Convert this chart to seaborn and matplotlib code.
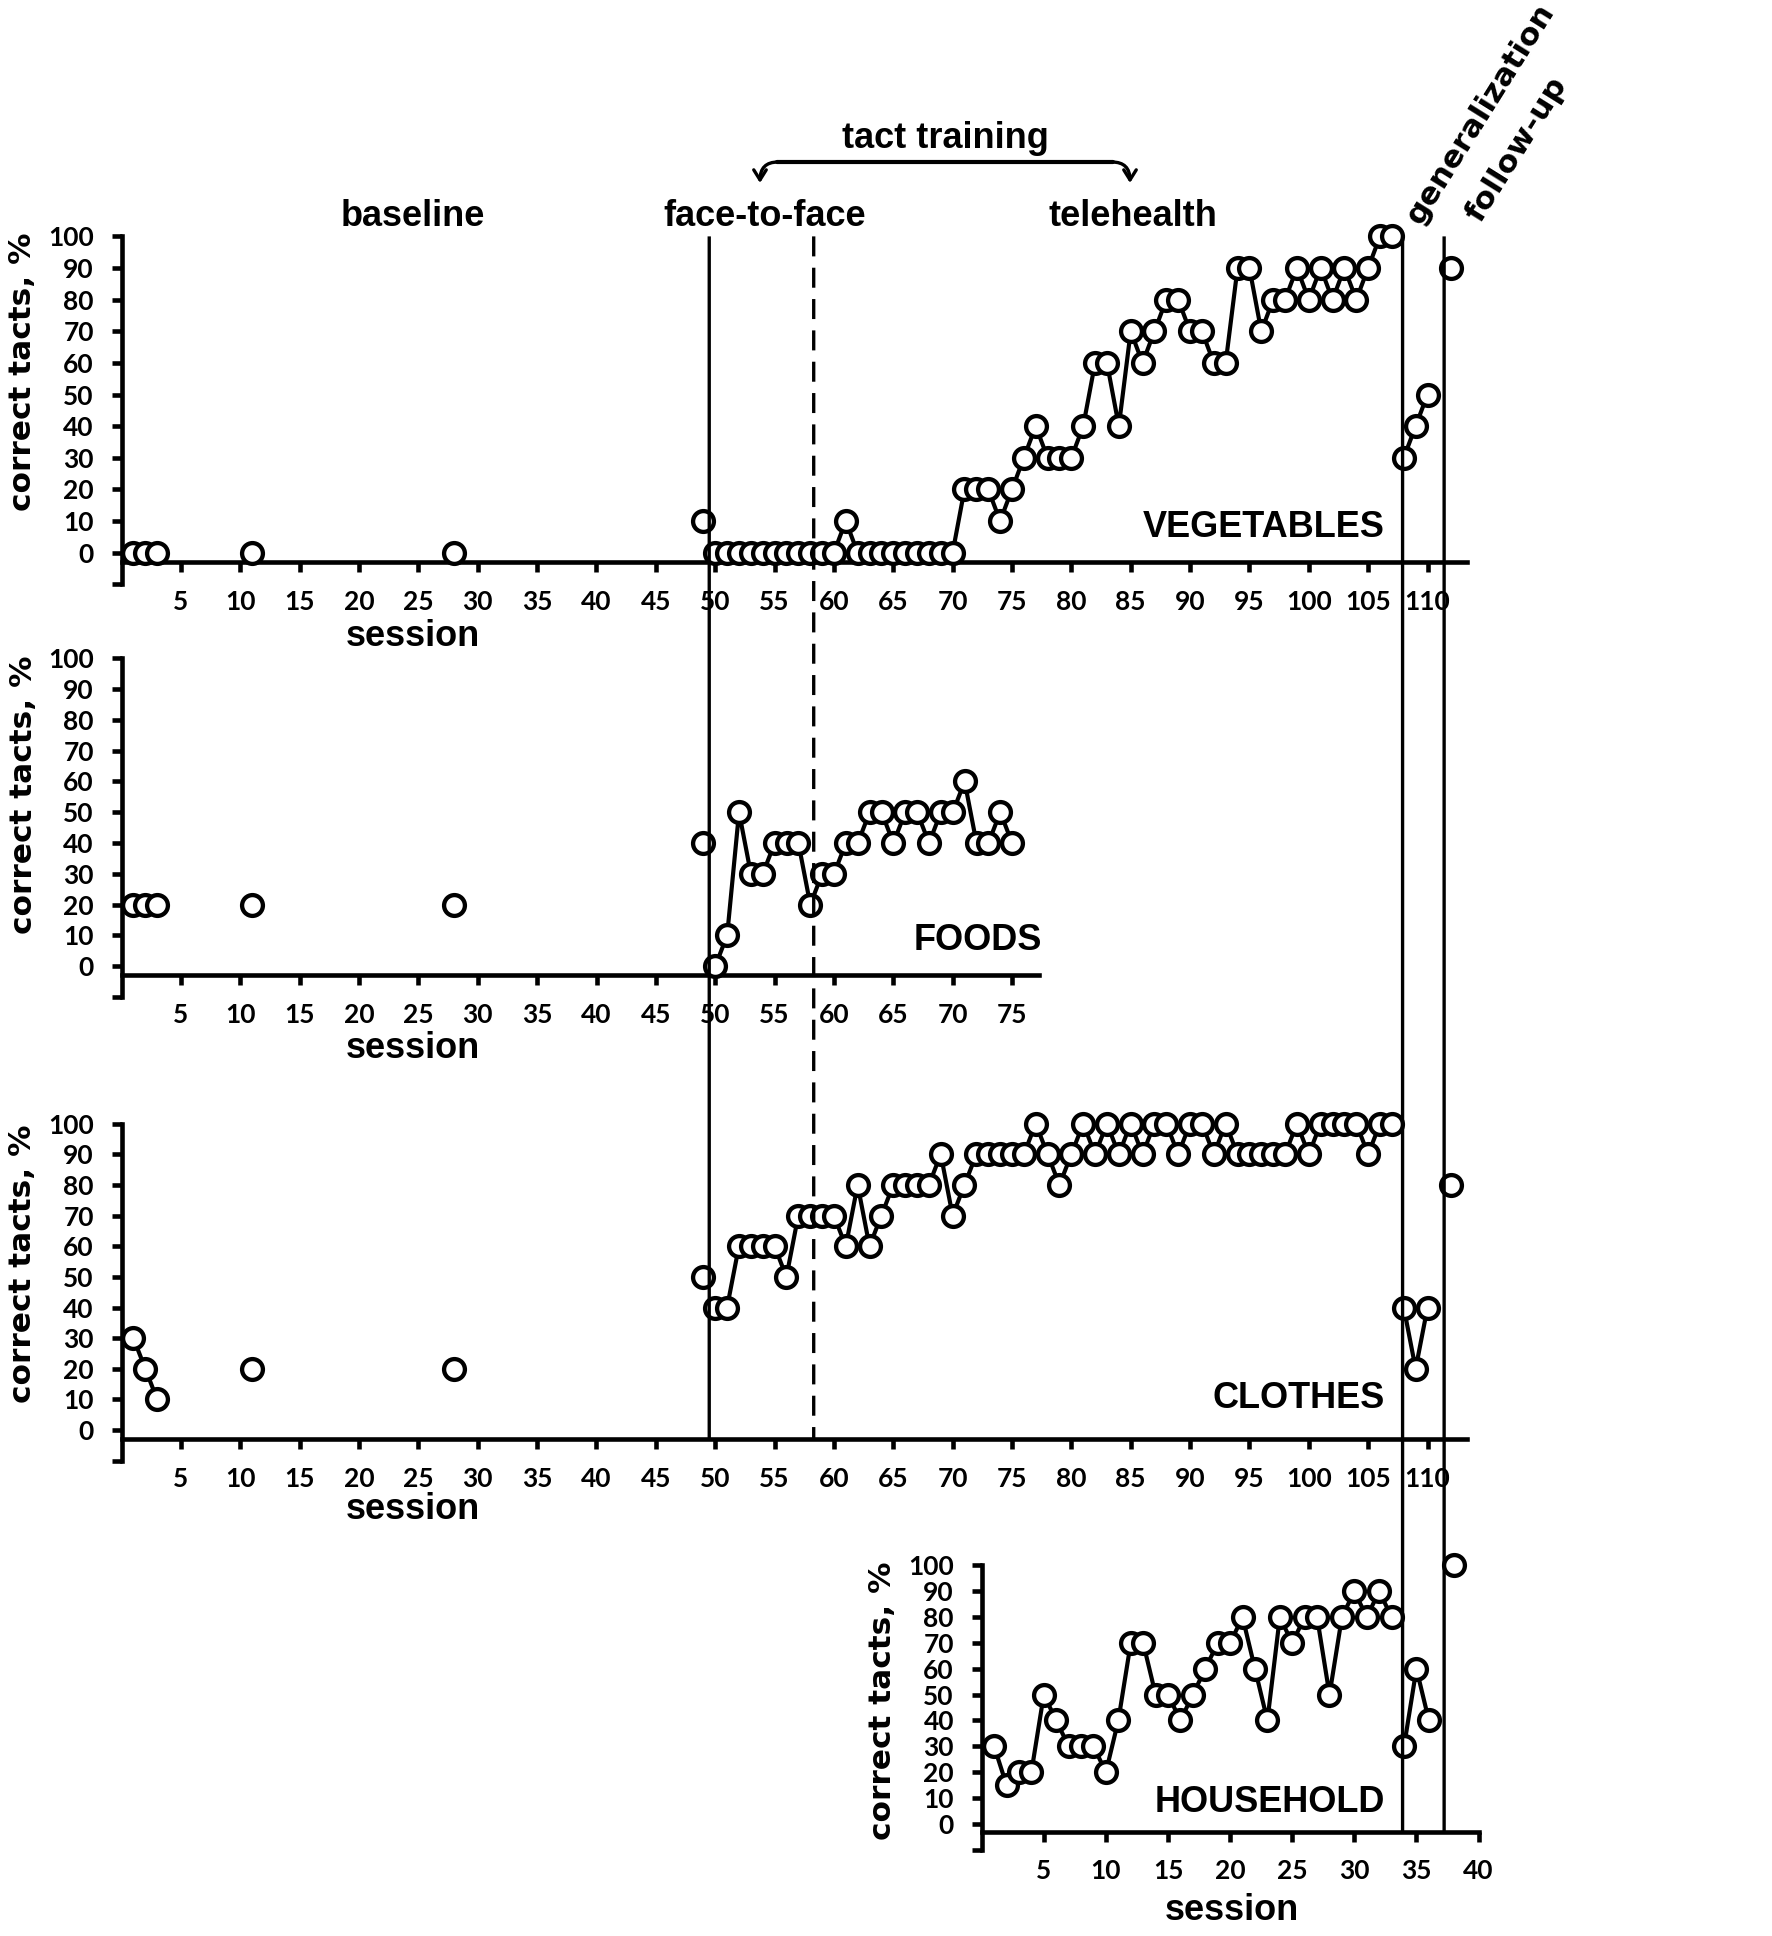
import matplotlib
matplotlib.use("Agg")
from matplotlib import pyplot as plt
from matplotlib.patches import ConnectionPatch, FancyArrowPatch
from matplotlib.lines import Line2D
import matplotlib.transforms as mtransforms
import seaborn as sns
import numpy as np
import pandas as pd

# baseline probes (same sessions for the three first sets)
baseline_sessions = [1, 2, 3, 11, 28, 49]
baseline_segments = [0, 0, 0, 1, 2, 3]

veg_baseline = [0, 0, 0, 0, 0, 10]
veg_training = [0, 0, 0, 0, 0, 0, 0, 0, 0, 0, 0, 10, 0, 0, 0, 0, 0, 0, 0, 0, 0,
                20, 20, 20, 10, 20, 30, 40, 30, 30, 30, 40, 60, 60, 40, 70, 60, 70,
                80, 80, 70, 70, 60, 60, 90, 90, 70, 80, 80, 90, 80, 90, 80, 90, 80,
                90, 100, 100]
veg_general = [30, 40, 50]
veg_follow = [90]

food_baseline = [20, 20, 20, 20, 20, 40]
food_training = [0, 10, 50, 30, 30, 40, 40, 40, 20, 30, 30, 40, 40, 50, 50, 40,
                 50, 50, 40, 50, 50, 60, 40, 40, 50, 40]

cloth_baseline = [30, 20, 10, 20, 20, 50]
cloth_training = [40, 40, 60, 60, 60, 60, 50, 70, 70, 70, 70, 60, 80, 60, 70, 80,
                  80, 80, 80, 90, 70, 80, 90, 90, 90, 90, 90, 100, 90, 80, 90, 100,
                  90, 100, 90, 100, 90, 100, 100, 90, 100, 100, 90, 100, 90, 90, 90,
                  90, 90, 100, 90, 100, 100, 100, 100, 90, 100, 100]
cloth_general = [40, 20, 40]
cloth_follow = [80]

house_training = [30, 15, 20, 20, 50, 40, 30, 30, 30, 20, 40, 70, 70, 50, 50, 40,
                  50, 60, 70, 70, 80, 60, 40, 80, 70, 80, 80, 50, 80, 90, 80, 90, 80]
house_general = [30, 60, 40]
house_follow = [100]

general_sessions = [108, 109, 110]
follow_sessions = [112]
house_general_sessions = [34, 35, 36]
house_follow_sessions = [38]

# phase change lines (session units of the upper panels)
phase_start = 49.5
phase_tele = 58.3
phase_general = 107.9
phase_follow = 111.4


def build(baseline, training, train_start, general=None, follow=None,
          gen_sessions=None, fol_sessions=None):
    rows = []
    if baseline is not None:
        for s, seg, v in zip(baseline_sessions, baseline_segments, baseline):
            rows.append((s, v, seg))
    for i, v in enumerate(training):
        rows.append((train_start + i, v, 10))
    if general is not None:
        for s, v in zip(gen_sessions, general):
            rows.append((s, v, 20))
    if follow is not None:
        for s, v in zip(fol_sessions, follow):
            rows.append((s, v, 30))
    return pd.DataFrame(rows, columns=["session", "pct", "segment"])


df_veg = build(veg_baseline, veg_training, 50, veg_general, veg_follow,
               general_sessions, follow_sessions)
df_food = build(food_baseline, food_training, 50)
df_cloth = build(cloth_baseline, cloth_training, 50, cloth_general, cloth_follow,
                 general_sessions, follow_sessions)
df_house = build(None, house_training, 1, house_general, house_follow,
                 house_general_sessions, house_follow_sessions)

sns.set_style("ticks")
plt.rcParams["font.family"] = ["Lato", "DejaVu Sans"]
plt.rcParams["text.color"] = "black"
plt.rcParams["axes.labelcolor"] = "black"
plt.rcParams["xtick.color"] = "black"
plt.rcParams["ytick.color"] = "black"

W, H = 1772, 1936


def fpos(x, y):
    return x / W, 1 - y / H


fig = plt.figure(figsize=(17.72, 19.36), dpi=100)
ax_veg = fig.add_axes([0.0686, 0.6982, 0.7591, 0.1797])
ax_food = fig.add_axes([0.0686, 0.4851, 0.5180, 0.1748])
ax_cloth = fig.add_axes([0.0686, 0.2455, 0.7591, 0.1741])
ax_house = fig.add_axes([0.5540, 0.0446, 0.2804, 0.1468])

label_font = dict(family=["Liberation Sans", "DejaVu Sans"], fontweight="bold",
                  color="black")
ylab_font = dict(family=["DejaVu Sans"], fontweight="bold", color="black")


def draw(ax, df, xmax, xticks, name, name_x, name_y, xlab_x, xlab_y, ylab_x, ylab_y):
    sns.lineplot(data=df, x="session", y="pct", units="segment", estimator=None,
                 ax=ax, color="black", linewidth=3.0, marker="o", markersize=15,
                 markerfacecolor="white", markeredgecolor="black",
                 markeredgewidth=3.1, clip_on=False, zorder=5)
    ax.set_xlim(0, xmax)
    ax.set_ylim(-10, 100)
    ax.set_yticks(range(-10, 101, 10))
    ax.set_yticklabels([""] + [str(v) for v in range(0, 101, 10)])
    ax.set_xticks(xticks)
    ax.set_xticklabels([str(v) for v in xticks])
    for s in ["top", "right"]:
        ax.spines[s].set_visible(False)
    ax.spines["bottom"].set_position(("data", -3))
    ax.spines["bottom"].set_bounds(0, xmax)
    ax.spines["left"].set_bounds(-10, 100)
    for s in ["bottom", "left"]:
        ax.spines[s].set_linewidth(3.3)
        ax.spines[s].set_color("black")
    ax.tick_params(axis="both", direction="out", length=7, width=3.3,
                   labelsize=19, pad=13, colors="black",
                   bottom=True, left=True, top=False, right=False)
    for lab in ax.get_xticklabels() + ax.get_yticklabels():
        lab.set_fontweight("bold")
    ax.set_xlabel("session", fontsize=26, **label_font)
    ax.xaxis.label.set_verticalalignment("center")
    ax.xaxis.set_label_coords(xlab_x, xlab_y)
    ax.set_ylabel("correct tacts, %", fontsize=22.5, **ylab_font)
    ax.yaxis.label.set_verticalalignment("center")
    ax.yaxis.set_label_coords(ylab_x, ylab_y)
    ax.text(name_x, name_y, name, ha="right", va="center", fontsize=26, **label_font)
    ax.patch.set_alpha(0)


top_ticks = list(range(5, 111, 5))
draw(ax_veg, df_veg, 113.3, top_ticks, "VEGETABLES", 106.4, 7.8,
     0.2164, -0.149, -0.0734, 0.61)
draw(ax_food, df_food, 77.3, list(range(5, 76, 5)), "FOODS", 77.5, 8.3,
     0.317, -0.153, -0.107, 0.596)
draw(ax_cloth, df_cloth, 113.3, top_ticks, "CLOTHES", 106.4, 10.4,
     0.2164, -0.146, -0.0734, 0.585)
draw(ax_house, df_house, 40, list(range(5, 41, 5)), "HOUSEHOLD", 32.5, 8.2,
     0.504, -0.2125, -0.2, 0.523)

# phase lines running through the panels
to_cloth = mtransforms.blended_transform_factory(ax_veg.transData, ax_cloth.transData)
to_house = mtransforms.blended_transform_factory(ax_veg.transData, ax_house.transData)
for xv, trans, ls in [(phase_start, to_cloth, "-"), (phase_tele, to_cloth, (0, (6, 3.4))),
                      (phase_general, to_house, "-"), (phase_follow, to_house, "-")]:
    con = ConnectionPatch(xyA=(xv, 100), coordsA=ax_veg.transData,
                          xyB=(xv, -3), coordsB=trans, color="black",
                          linewidth=2.4, linestyle=ls, zorder=10)
    con.set_capstyle("butt")
    fig.add_artist(con)

# phase headers
for txt, x in [("baseline", 413), ("face-to-face", 765), ("telehealth", 1133)]:
    fig.text(*fpos(x, 216), txt, ha="center", va="center", fontsize=26, **label_font)
fig.text(*fpos(945, 138), "tact training", ha="center", va="center",
         fontsize=26, **label_font)
fig.text(*fpos(1481, 114), "generalization", ha="center", va="center",
         rotation=58, rotation_mode="anchor", fontsize=22.5, **ylab_font)
fig.text(*fpos(1517, 149), "follow-up", ha="center", va="center",
         rotation=58, rotation_mode="anchor", fontsize=22.5, **ylab_font)

# bracket over the training phases
fig.add_artist(Line2D([fpos(777, 0)[0], fpos(1113, 0)[0]],
                      [fpos(0, 162)[1], fpos(0, 162)[1]],
                      transform=fig.transFigure, color="black", linewidth=3.0))
for a, b in [((778, 162), (760, 183)), ((1112, 162), (1130, 183))]:
    arr = FancyArrowPatch(fpos(*a), fpos(*b), transform=fig.transFigure,
                          connectionstyle="angle3,angleA=0,angleB=90",
                          arrowstyle="->,head_length=0.4,head_width=0.25",
                          mutation_scale=18, color="black", linewidth=2.4,
                          shrinkA=0, shrinkB=0)
    fig.add_artist(arr)

fig.savefig("out.png", dpi=100, facecolor="white")
